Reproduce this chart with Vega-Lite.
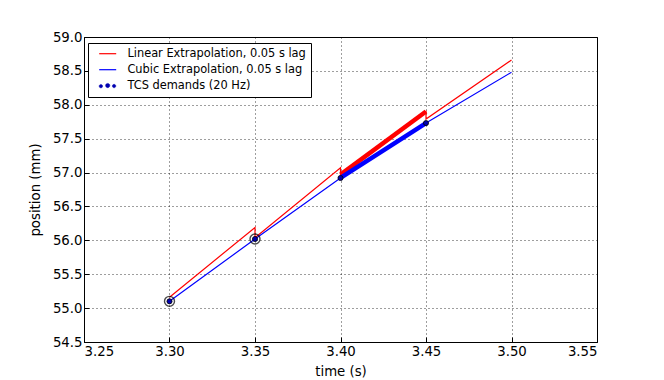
{
  "$schema": "https://vega.github.io/schema/vega-lite/v6.json",
  "autosize": {"type": "none"},
  "width": 513,
  "height": 305,
  "padding": {"left": 84, "top": 37, "right": 67, "bottom": 38},
  "background": "white",
  "config": {
    "font": "DejaVu Sans",
    "view": {"stroke": "black", "strokeWidth": 1},
    "axis": {
      "labelFont": "DejaVu Sans", "labelFontSize": 13.3, "labelColor": "black",
      "titleFont": "DejaVu Sans", "titleFontSize": 13.3, "titleFontWeight": "normal", "titleColor": "black",
      "domain": false, "ticks": true, "tickSize": -5, "tickColor": "black", "tickWidth": 1,
      "grid": true, "gridColor": "black", "gridDash": [1, 3], "gridWidth": 0.9, "gridOpacity": 0.85
    }
  },
  "datasets": {
    "lines": [
      {"series": "Linear Extrapolation, 0.05 s lag", "i": 0, "t": 3.30, "pos": 55.16},
      {"series": "Linear Extrapolation, 0.05 s lag", "i": 1, "t": 3.35, "pos": 56.19},
      {"series": "Linear Extrapolation, 0.05 s lag", "i": 2, "t": 3.35, "pos": 56.04},
      {"series": "Linear Extrapolation, 0.05 s lag", "i": 3, "t": 3.40, "pos": 57.07},
      {"series": "Linear Extrapolation, 0.05 s lag", "i": 4, "t": 3.40, "pos": 56.97},
      {"series": "Linear Extrapolation, 0.05 s lag", "i": 5, "t": 3.45, "pos": 57.90},
      {"series": "Linear Extrapolation, 0.05 s lag", "i": 6, "t": 3.45, "pos": 57.79},
      {"series": "Linear Extrapolation, 0.05 s lag", "i": 7, "t": 3.50, "pos": 58.66},
      {"series": "Cubic Extrapolation, 0.05 s lag", "i": 0, "t": 3.30, "pos": 55.10},
      {"series": "Cubic Extrapolation, 0.05 s lag", "i": 1, "t": 3.35, "pos": 56.02},
      {"series": "Cubic Extrapolation, 0.05 s lag", "i": 2, "t": 3.40, "pos": 56.92},
      {"series": "Cubic Extrapolation, 0.05 s lag", "i": 3, "t": 3.45, "pos": 57.73},
      {"series": "Cubic Extrapolation, 0.05 s lag", "i": 4, "t": 3.50, "pos": 58.48}
    ],
    "thick": [
      {"series": "Linear Extrapolation, 0.05 s lag", "i": 0, "t": 3.40, "pos": 56.97},
      {"series": "Linear Extrapolation, 0.05 s lag", "i": 1, "t": 3.45, "pos": 57.90},
      {"series": "Cubic Extrapolation, 0.05 s lag", "i": 0, "t": 3.40, "pos": 56.92},
      {"series": "Cubic Extrapolation, 0.05 s lag", "i": 1, "t": 3.45, "pos": 57.73}
    ],
    "demands": [
      {"t": 3.30, "pos": 55.10, "ring": "yes"},
      {"t": 3.35, "pos": 56.02, "ring": "yes"},
      {"t": 3.40, "pos": 56.92, "ring": "no"},
      {"t": 3.45, "pos": 57.73, "ring": "no"}
    ]
  },
  "encoding": {
    "x": {
      "field": "t", "type": "quantitative", "title": "time (s)",
      "scale": {"domain": [3.25, 3.55], "nice": false, "zero": false},
      "axis": {"values": [3.25, 3.30, 3.35, 3.40, 3.45, 3.50, 3.55], "format": ".2f", "labelPadding": 7, "titlePadding": 7}
    },
    "y": {
      "field": "pos", "type": "quantitative", "title": "position (mm)",
      "scale": {"domain": [54.5, 59.0], "nice": false, "zero": false},
      "axis": {"values": [54.5, 55.0, 55.5, 56.0, 56.5, 57.0, 57.5, 58.0, 58.5, 59.0], "format": ".1f", "labelPadding": 7, "titlePadding": 10}
    }
  },
  "layer": [
    {
      "data": {"name": "lines"},
      "mark": {"type": "line", "strokeWidth": 1.2, "clip": true},
      "encoding": {
        "order": {"field": "i", "type": "quantitative"},
        "color": {
          "field": "series", "type": "nominal",
          "scale": {
            "domain": ["Linear Extrapolation, 0.05 s lag", "Cubic Extrapolation, 0.05 s lag", "TCS demands (20 Hz)"],
            "range": ["#ff0000", "#0000ff", "#0000b0"]
          },
          "legend": {
            "title": null,
            "orient": "none", "legendX": 4, "legendY": 6,
            "strokeColor": "black", "fillColor": "white", "cornerRadius": 0,
            "padding": 5, "symbolOffset": 9,
            "labelFont": "DejaVu Sans", "labelFontSize": 11.4, "labelColor": "black", "labelLimit": 0,
            "labelOffset": 14, "rowPadding": 3,
            "symbolSize": 289,
            "encode": {
              "symbols": {
                "update": {
                  "shape": {"signal": "datum.value === 'TCS demands (20 Hz)' ? 'M-1.0,0.05a0.2,0.2 0 1,0 0.4,0a0.2,0.2 0 1,0 -0.4,0M-0.25,-0.02a0.25,0.25 0 1,0 0.5,0a0.25,0.25 0 1,0 -0.5,0M0.55,0.04a0.2,0.2 0 1,0 0.4,0a0.2,0.2 0 1,0 -0.4,0Z' : 'stroke'"},
                  "fill": {"signal": "datum.value === 'TCS demands (20 Hz)' ? '#0000b0' : 'transparent'"},
                  "stroke": {"signal": "datum.value === 'TCS demands (20 Hz)' ? 'black' : (datum.value === 'Cubic Extrapolation, 0.05 s lag' ? '#0000ff' : '#ff0000')"},
                  "strokeWidth": {"signal": "datum.value === 'TCS demands (20 Hz)' ? 0.5 : 1.2"}
                }
              }
            }
          }
        }
      }
    },
    {
      "data": {"name": "thick"},
      "mark": {"type": "line", "strokeWidth": 4.5, "clip": true},
      "encoding": {
        "order": {"field": "i", "type": "quantitative"},
        "color": {"field": "series", "type": "nominal"}
      }
    },
    {
      "data": {"name": "demands"},
      "transform": [{"filter": "datum.ring === 'yes'"}],
      "mark": {"type": "point", "shape": "circle", "filled": false, "stroke": "black", "strokeWidth": 1.4, "size": 100}
    },
    {
      "data": {"name": "demands"},
      "mark": {"type": "point", "shape": "circle", "filled": true, "fill": "#0000b0", "fillOpacity": 1, "stroke": "black", "strokeWidth": 0.8, "size": 26}
    }
  ]
}
